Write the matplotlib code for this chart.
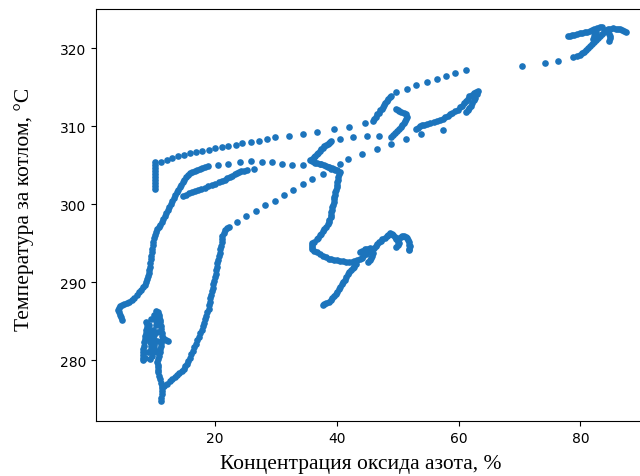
import numpy as np
import matplotlib
matplotlib.use("Agg")
import matplotlib.pyplot as plt

# NOx concentration (%) and temperature behind the boiler (°C)
# by visible stroke of the trajectory

# short vertical piece at the start of the upper dotted line
x_stub = [10.2] * 10
y_stub = [305.4, 305.0, 304.6, 304.2, 303.8, 303.5, 303.1, 302.7, 302.3, 301.9]

# upper dotted line (with its dense piece near 46-49 %)
x_top = [11.2, 12.2, 13.0, 14.0, 15.0, 16.0, 16.9, 17.9, 19.1, 20.1, 21.1, 22.2,
         23.4, 24.5, 26.0, 27.3, 28.6, 29.9, 32.1, 34.4, 36.8, 39.5, 42.1, 44.7,
         45.9, 46.1, 46.4, 46.6, 46.9, 47.1, 47.4, 47.6, 47.8, 48.0, 48.3, 48.5, 48.8, 49.0,
         49.8, 51.5, 53.1, 54.8, 56.4, 57.9, 59.5, 61.2]
y_top = [305.4, 305.6, 305.9, 306.2, 306.3, 306.5, 306.7, 306.8, 306.9, 307.2, 307.3, 307.4,
         307.6, 307.8, 307.9, 308.1, 308.3, 308.6, 308.7, 309.0, 309.2, 309.6, 309.9, 310.4,
         310.6, 310.9, 311.2, 311.5, 311.7, 312.0, 312.2, 312.5, 312.7, 313.0, 313.2, 313.5,
         313.7, 313.9,
         314.4, 314.7, 315.3, 315.6, 316.0, 316.4, 316.8, 317.2]

# big left curve
x_left = [4.8, 4.6, 4.4, 4.3, 4.1, 4.3, 4.4, 4.8, 5.1, 5.6, 5.9, 6.4, 6.7, 7.2, 7.6, 7.9,
          8.2, 8.6, 8.7, 8.9, 9.0, 9.2, 9.2, 9.4, 9.4, 9.5, 9.5, 9.7, 9.7, 9.9, 9.9, 10.0,
          10.2, 10.4, 10.5, 10.9, 11.0, 11.3, 11.5, 11.8, 12.0, 12.3, 12.5, 12.8, 13.0, 13.3,
          13.5, 13.8, 14.0, 14.3, 14.5, 14.8, 15.0, 15.3, 15.6, 16.0, 16.3, 16.8, 17.1, 17.6,
          17.9, 18.4, 18.9]
y_left = [285.1, 285.5, 285.8, 286.2, 286.4, 286.7, 286.9, 287.1, 287.2, 287.3, 287.4,
          287.7, 287.9, 288.3, 288.7, 289.0, 289.4, 289.6, 290.0, 290.4, 290.8, 291.2,
          291.5, 292.0, 292.4, 292.9, 293.3, 293.8, 294.2, 294.7, 295.1, 295.6, 296.0,
          296.4, 296.8, 297.1, 297.3, 297.7, 298.1, 298.5, 298.8, 299.2, 299.6, 300.0,
          300.4, 300.8, 301.2, 301.5, 301.8, 302.2, 302.4, 302.8, 303.1, 303.5, 303.7,
          304.0, 304.1, 304.2, 304.4, 304.5, 304.6, 304.7, 304.9]

# lower branch next to the left curve
x_branch = [14.8, 15.3, 15.8, 16.3, 16.8, 17.3, 17.8, 18.4, 18.9, 19.5, 20.1, 20.7, 21.2,
            21.6, 22.0, 22.5, 22.9, 23.3, 23.7, 24.0, 24.3, 24.8, 25.3, 26.5]
y_branch = [301.0, 301.2, 301.4, 301.6, 301.7, 301.8, 301.9, 302.1, 302.3, 302.5, 302.6,
            302.8, 302.9, 303.1, 303.3, 303.5, 303.6, 303.8, 304.0, 304.1, 304.2, 304.3,
            304.4, 304.5]

# middle dotted line
x_mid = [20.6, 22.2, 24.2, 26.0, 27.8, 29.4, 31.1, 32.7, 34.4]
y_mid = [305.0, 305.1, 305.4, 305.5, 305.4, 305.4, 305.1, 305.0, 305.0]

# "<" shape, upper arm and the dots after it, then the ")" piece
x_arm = [35.7, 35.9, 36.2, 36.5, 36.7, 37.0, 37.2, 37.5, 37.7, 38.0, 38.2, 38.5, 38.7,
         38.9, 39.1, 40.5, 42.6, 44.9, 47.0,
         49.0, 49.2, 49.5, 49.9, 50.2, 50.5, 50.7, 51.0, 51.2, 51.4, 51.5, 51.3, 51.0,
         50.6, 50.3, 50.0, 49.8]
y_arm = [305.6, 305.8, 306.0, 306.2, 306.4, 306.6, 306.8, 307.0, 307.2, 307.4, 307.6,
         307.7, 307.8, 308.0, 308.1, 308.3, 308.6, 308.7, 308.7,
         308.6, 308.8, 309.1, 309.4, 309.6, 309.9, 310.1, 310.4, 310.6, 310.9, 311.2,
         311.5, 311.7, 311.8, 311.9, 312.1, 312.2]

# "<" lower arm, long drop and the wiggles at 290-296
x_drop = [35.9, 36.2, 36.5, 36.8, 37.2, 37.5, 37.9, 38.2, 38.5, 38.8, 39.2, 39.5, 39.8,
          40.1, 40.5,
          40.4, 40.3, 40.2, 40.1, 40.0, 40.0, 39.9, 39.8, 39.7, 39.6, 39.5, 39.5, 39.4,
          39.3, 39.2, 39.1, 39.0, 39.0, 38.8, 38.7, 38.5, 38.3, 38.0, 37.8, 37.5, 37.3,
          37.0, 36.7, 36.3, 36.0, 35.9, 35.9, 36.0, 36.3, 36.7, 37.2, 37.7, 38.2, 38.7,
          39.1, 39.6, 40.1, 40.6, 41.1, 41.6, 42.1, 42.5, 42.9,
          43.4, 43.8, 44.1, 44.4, 44.8, 45.1, 45.4, 45.7, 46.1, 46.4, 46.7, 46.9, 47.2,
          47.5, 47.9, 48.2, 48.5, 48.8, 49.1, 49.3, 49.6, 49.8, 50.0, 50.2, 50.0, 49.8,
          50.3, 50.5, 50.8, 51.0, 51.3, 51.5, 51.7, 51.8, 51.9, 52.0, 51.9, 51.8,
          43.8, 44.2, 44.6, 45.0, 45.4, 45.7, 45.9, 45.8, 45.7, 45.4, 45.1]
y_drop = [305.5, 305.4, 305.3, 305.3, 305.2, 305.1, 305.0, 304.9, 304.8, 304.7, 304.6,
          304.5, 304.4, 304.4, 304.1,
          303.8, 303.5, 303.1, 302.8, 302.5, 302.2, 301.8, 301.5, 301.2, 300.9, 300.6,
          300.3, 299.9, 299.6, 299.3, 299.0, 298.6, 298.3, 298.0, 297.7, 297.4, 297.1,
          296.8, 296.5, 296.2, 296.0, 295.7, 295.5, 295.2, 295.0, 294.7, 294.5, 294.2,
          294.0, 293.8, 293.6, 293.4, 293.2, 293.0, 292.9, 292.8, 292.8, 292.7, 292.7,
          292.6, 292.6, 292.6, 292.7,
          292.8, 292.9, 293.1, 293.3, 293.6, 293.8, 294.0, 294.2, 294.4, 294.6, 294.9,
          295.1, 295.3, 295.5, 295.7, 295.9, 296.1, 296.3, 296.2, 296.0, 295.8, 295.5,
          295.2, 295.0, 294.7, 294.5,
          295.7, 295.8, 295.9, 295.9, 295.8, 295.7, 295.4, 295.1, 294.8, 294.6, 294.3,
          294.1,
          293.8, 294.0, 294.2, 294.3, 294.4, 294.1, 293.7, 293.4, 293.1, 292.8, 292.6]

# leg going down-left from the wiggles
x_leg = [43.1, 42.9, 42.6, 42.4, 42.1, 41.9, 41.6, 41.4, 41.1, 40.9, 40.6, 40.4, 40.1,
         39.9, 39.6, 39.3, 39.0, 38.7, 38.3, 38.0, 37.7]
y_leg = [292.3, 292.0, 291.8, 291.5, 291.3, 291.0, 290.6, 290.3, 290.0, 289.7, 289.4,
         289.1, 288.7, 288.5, 288.2, 288.0, 287.7, 287.5, 287.3, 287.2, 287.1]

# lower-left cluster
x_cluster = [10.7, 10.8, 10.9, 11.0, 11.0, 11.1, 11.2, 11.3, 11.3, 11.3, 11.2, 11.1, 11.0,
             11.0, 10.9, 10.7, 10.5, 10.6, 10.7, 10.7, 10.7, 10.9, 11.0, 11.2, 11.3, 11.3,
             11.3, 11.2, 11.2,
             8.9, 8.8, 8.7, 8.7, 8.6, 8.5, 8.4, 8.3, 8.2, 8.2, 8.2, 8.2, 8.2,
             9.2, 9.2, 9.3, 9.4, 9.4, 9.5, 9.6, 9.7, 9.7, 10.0, 10.0, 10.0, 10.1, 10.2,
             10.4, 10.4, 10.4, 11.5, 11.7, 12.0, 12.3,
             9.0, 9.0, 9.8, 9.8, 10.5, 10.5, 10.5, 9.3, 8.6, 8.7, 9.5, 10.0, 10.3]
y_cluster = [286.2, 285.8, 285.5, 285.2, 284.9, 284.4, 284.0, 283.5, 283.1, 282.6, 282.2,
             281.8, 281.4, 281.0, 280.5, 280.1, 279.7, 279.4, 279.1, 278.8, 278.5, 278.0,
             277.6, 277.1, 276.7, 276.1, 275.6, 275.1, 274.7,
             284.6, 284.2, 283.8, 283.5, 283.1, 282.7, 282.3, 281.8, 281.4, 281.0, 280.6,
             280.3, 280.0,
             284.5, 283.6, 283.2, 282.7, 282.3, 281.8, 281.4, 280.9, 280.5, 283.2, 282.6,
             282.0, 281.6, 281.2, 285.5, 285.0, 284.5, 282.8, 282.7, 282.6, 282.4,
             284.0, 281.0, 283.8, 281.8, 283.6, 282.4, 281.0, 280.2, 280.3, 284.9, 285.3,
             285.8, 286.3]

# S-shaped curve rising from the cluster, then the lower dotted line
x_s = [11.3, 11.7, 12.2, 12.6, 13.0, 13.4, 13.8, 14.2, 14.6, 14.9, 15.1, 15.4, 15.6,
       15.9, 16.1, 16.4, 16.6, 16.9, 17.1, 17.4, 17.6, 17.9, 18.1, 18.3, 18.4, 18.6,
       18.8, 19.0, 19.1, 19.2, 19.2, 19.4, 19.6, 19.7, 19.7, 19.9, 20.1, 20.2, 20.2,
       20.3, 20.4, 20.6, 20.7, 20.8, 20.9, 21.0, 21.1, 21.2, 21.2, 21.5, 21.7, 22.0, 22.4,
       23.7, 25.2, 26.8, 28.3, 29.8, 31.4, 32.9, 34.4, 35.9, 37.7, 39.0, 40.5, 41.9,
       44.2, 46.7, 49.0, 51.3, 53.8]
y_s = [276.4, 276.7, 277.0, 277.3, 277.6, 277.8, 278.1, 278.4, 278.6, 278.9, 279.2,
       279.5, 279.9, 280.3, 280.8, 281.2, 281.7, 282.1, 282.6, 283.0, 283.5, 283.9,
       284.4, 284.8, 285.3, 285.7, 286.2, 286.6, 287.1, 287.5, 287.9, 288.4, 288.8,
       289.3, 289.7, 290.1, 290.6, 291.0, 291.5, 291.9, 292.4, 292.8, 293.3, 293.7,
       294.2, 294.6, 295.1, 295.5, 295.9, 296.3, 296.7, 296.9, 297.1,
       297.7, 298.5, 299.1, 299.9, 300.4, 301.2, 301.8, 302.6, 303.2, 303.8, 304.5,
       305.1, 305.8, 306.4, 307.1, 307.7, 308.3, 309.0]

# rising stroke near 310-314
x_right = [53.1, 53.3, 53.6, 54.0, 54.4, 54.9, 55.4, 55.9, 56.4, 56.9, 57.4, 57.8, 58.2,
           58.6, 59.0, 59.5, 59.9, 60.2, 60.5, 60.9, 61.2, 61.5, 61.8, 62.2, 62.5, 62.9,
           63.2, 63.0, 62.7, 62.5, 62.2, 62.0, 61.7, 61.5, 61.3, 57.4]
y_right = [309.6, 309.8, 310.0, 310.1, 310.1, 310.3, 310.4, 310.5, 310.6, 310.8, 310.9,
           311.1, 311.3, 311.5, 311.7, 311.9, 312.1, 312.4, 312.6, 312.9, 313.2, 313.5,
           313.8, 314.0, 314.2, 314.4, 314.5, 314.1, 313.6, 313.3, 312.9, 312.6, 312.3,
           312.0, 311.8, 309.5]

# upper right end
x_end = [70.4, 74.2, 76.3, 78.8, 79.4,
         79.9, 80.3, 80.6, 80.9, 81.2, 81.6, 81.9, 82.3, 82.6, 82.9, 83.2, 83.6, 83.9,
         84.2, 84.5, 84.9, 85.4, 85.8, 86.2, 86.5, 86.8, 87.2, 87.5,
         78.0, 78.3, 78.6, 79.0, 79.4, 79.9, 80.3, 80.7, 81.1, 81.5, 81.9, 82.3, 82.7,
         83.2, 83.6,
         82.6, 82.4, 82.2, 82.1, 84.7, 84.8, 84.9, 84.7]
y_end = [317.7, 318.1, 318.3, 318.8, 319.0,
         319.1, 319.3, 319.5, 319.8, 320.0, 320.3, 320.5, 320.8, 321.0, 321.3, 321.5,
         321.8, 322.1, 322.3, 322.4, 322.5, 322.6, 322.5, 322.4, 322.4, 322.3, 322.2,
         322.1,
         321.5, 321.6, 321.7, 321.7, 321.8, 321.9, 321.9, 322.0, 322.1, 322.2, 322.3,
         322.5, 322.6, 322.7, 322.7,
         322.1, 321.8, 321.5, 321.2, 321.8, 321.5, 321.3, 320.9]

nox = np.concatenate([x_stub, x_top, x_left, x_branch, x_mid, x_arm, x_drop, x_leg,
                      x_cluster, x_s, x_right, x_end])
temp = np.concatenate([y_stub, y_top, y_left, y_branch, y_mid, y_arm, y_drop, y_leg,
                       y_cluster, y_s, y_right, y_end])

fig = plt.figure(figsize=(6.4, 4.77), dpi=100)
# the right part of the frame is cut off in the original picture
ax = fig.add_axes([0.15, 0.1153, 0.8625, 0.8637])
ax.scatter(nox, temp, s=23, color='#1c74bc', linewidths=0)
ax.set_xlim(0.5, 91.1)
ax.set_ylim(272.2, 325.0)
ax.set_xticks([20, 40, 60, 80])
ax.set_yticks([280, 290, 300, 310, 320])

ax.set_xlabel('Концентрация оксида азота, %', family='Liberation Serif', fontsize=15.5)
ax.set_ylabel('Температура за котлом, °C', family='Liberation Serif', fontsize=15.5)
# labels sit a bit off-centre in the original
ax.xaxis.set_label_coords(0.48, -0.08)
ax.yaxis.set_label_coords(-0.112, 0.517)

fig.savefig('out.png', dpi=100)
